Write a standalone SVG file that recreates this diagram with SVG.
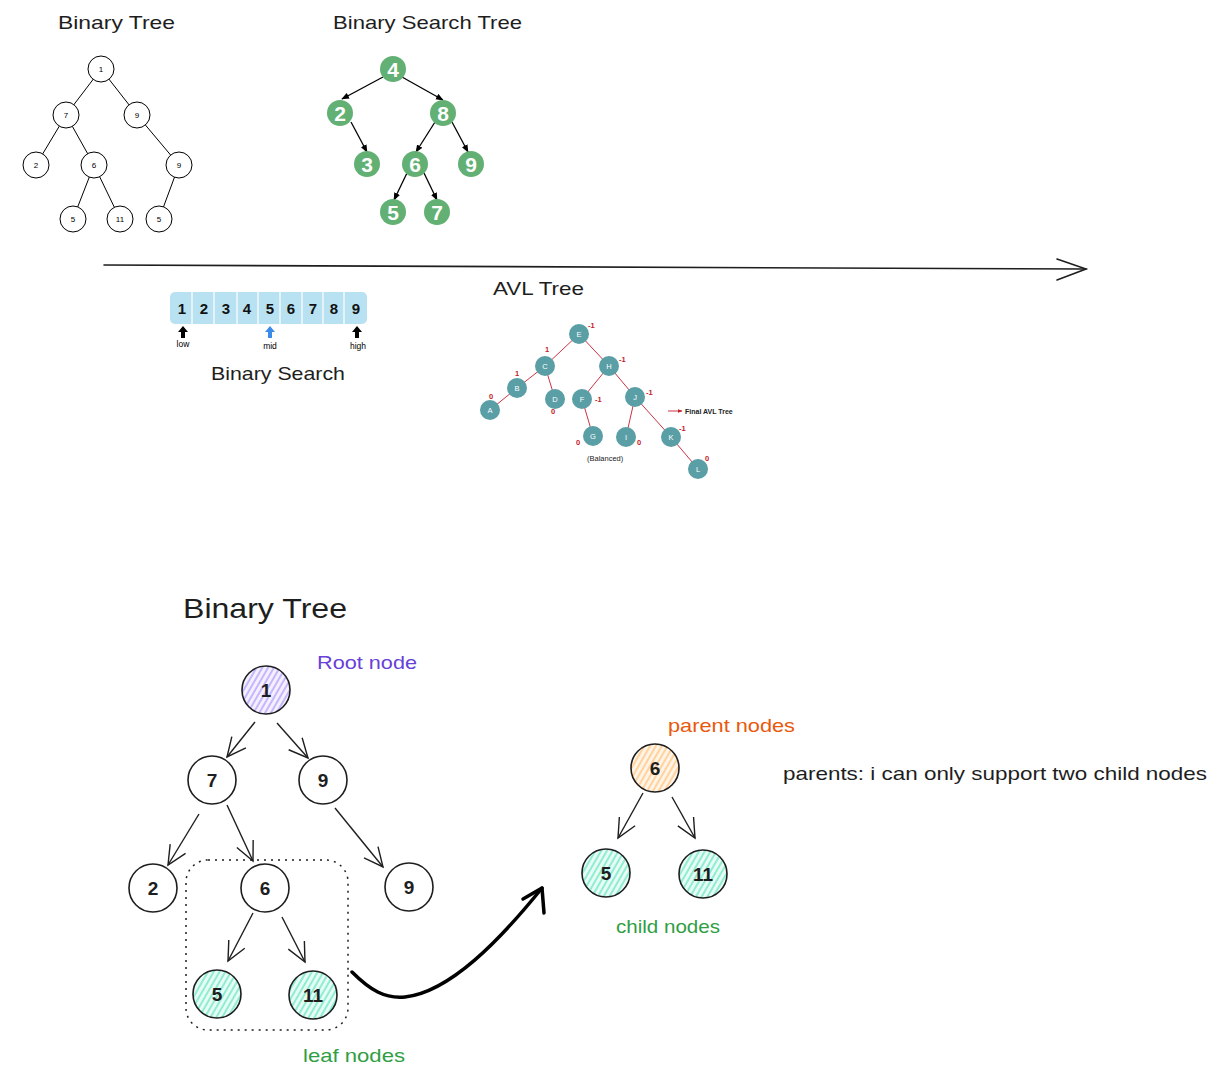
<svg xmlns="http://www.w3.org/2000/svg" width="1216" height="1078" viewBox="0 0 1216 1078">
<style>
text{font-family:"Liberation Sans","DejaVu Sans",sans-serif;}
.hand{font-size:19px;fill:#1e1e1e;}
.sm circle{fill:#fff;stroke:#000;stroke-width:1;}
.sm text{font-size:8px;text-anchor:middle;fill:#000;}
.bst circle{fill:#62b073;}
.bst text{font-size:21px;font-weight:bold;fill:#fff;text-anchor:middle;}
.avl circle{fill:#5a9ea6;}
.avl text{font-size:7.5px;fill:#fff;text-anchor:middle;}
.bal{font-size:7.5px;font-weight:bold;fill:#c3202c;}
.big circle{stroke:#1e1e1e;stroke-width:1.6;}
.big text{font-size:19px;font-weight:bold;fill:#1e1e1e;text-anchor:middle;}
.arr{fill:none;stroke:#1e1e1e;stroke-width:1.4;}
.cell{font-size:15px;font-weight:bold;fill:#111;text-anchor:middle;}
</style>
<defs>
<marker id="ah" viewBox="0 0 10 10" refX="9" refY="5" markerWidth="6" markerHeight="6" orient="auto"><path d="M0,1 L10,5 L0,9 z" fill="#000"/></marker>
<marker id="open" viewBox="-22 -12 24 24" refX="0" refY="0" markerWidth="24" markerHeight="24" markerUnits="userSpaceOnUse" orient="auto"><path d="M-19,-9 L0,0 L-19,9" fill="none" stroke="#1e1e1e" stroke-width="1.4"/></marker>
<marker id="redah" viewBox="0 0 10 10" refX="9" refY="5" markerWidth="5" markerHeight="5" orient="auto"><path d="M0,1 L10,5 L0,9 z" fill="#c3202c"/></marker>
<pattern id="hp" width="5" height="5" patternUnits="userSpaceOnUse" patternTransform="rotate(30)"><rect width="5" height="5" fill="#f3f0ff"/><line x1="1" y1="0" x2="1" y2="5" stroke="#b197fc" stroke-width="1.3"/></pattern>
<pattern id="hg" width="5" height="5" patternUnits="userSpaceOnUse" patternTransform="rotate(30)"><rect width="5" height="5" fill="#e6fcf5"/><line x1="1" y1="0" x2="1" y2="5" stroke="#63e6be" stroke-width="1.3"/></pattern>
<pattern id="ho" width="5" height="5" patternUnits="userSpaceOnUse" patternTransform="rotate(30)"><rect width="5" height="5" fill="#fff4e6"/><line x1="1" y1="0" x2="1" y2="5" stroke="#ffc078" stroke-width="1.3"/></pattern>
</defs>

<!-- Top-left binary tree -->
<text class="hand" x="58" y="29" textLength="117" lengthAdjust="spacingAndGlyphs">Binary Tree</text>
<g id="connectors-small" stroke="#000" stroke-width="1">
<line x1="101" y1="69" x2="66" y2="115"/><line x1="101" y1="69" x2="137" y2="115"/>
<line x1="66" y1="115" x2="36" y2="165"/><line x1="66" y1="115" x2="94" y2="165"/>
<line x1="137" y1="115" x2="179" y2="165"/>
<line x1="94" y1="165" x2="73" y2="219"/><line x1="94" y1="165" x2="120" y2="219"/>
<line x1="179" y1="165" x2="159" y2="219"/>
</g>
<g class="sm">
<g id="s1"><circle cx="101" cy="69" r="13"/><text x="101" y="72">1</text></g>
<g id="s7"><circle cx="66" cy="115" r="13"/><text x="66" y="118">7</text></g>
<g id="s9a"><circle cx="137" cy="115" r="13"/><text x="137" y="118">9</text></g>
<g id="s2"><circle cx="36" cy="165" r="13"/><text x="36" y="168">2</text></g>
<g id="s6"><circle cx="94" cy="165" r="13"/><text x="94" y="168">6</text></g>
<g id="s9b"><circle cx="179" cy="165" r="13"/><text x="179" y="168">9</text></g>
<g id="s5a"><circle cx="73" cy="219" r="13"/><text x="73" y="222">5</text></g>
<g id="s11"><circle cx="120" cy="219" r="13"/><text x="120" y="222">11</text></g>
<g id="s5b"><circle cx="159" cy="219" r="13"/><text x="159" y="222">5</text></g>
</g>

<!-- BST -->
<text class="hand" x="333" y="29" textLength="189" lengthAdjust="spacingAndGlyphs">Binary Search Tree</text>
<g id="connectors-bst" stroke="#000" stroke-width="1.3" marker-end="url(#ah)">
<line x1="383" y1="77" x2="342" y2="99"/>
<line x1="402" y1="77" x2="443" y2="100"/>
<line x1="351" y1="122" x2="367" y2="152"/>
<line x1="435" y1="122" x2="416" y2="152"/>
<line x1="452" y1="122" x2="468" y2="152"/>
<line x1="407" y1="173" x2="394" y2="200"/>
<line x1="424" y1="173" x2="437" y2="200"/>
</g>
<g class="bst">
<g id="b4"><circle cx="393" cy="69" r="13"/><text x="393" y="77">4</text></g>
<g id="b2"><circle cx="340" cy="113" r="13"/><text x="340" y="121">2</text></g>
<g id="b8"><circle cx="443" cy="113" r="13"/><text x="443" y="121">8</text></g>
<g id="b3"><circle cx="367" cy="164" r="13"/><text x="367" y="172">3</text></g>
<g id="b6"><circle cx="415" cy="164" r="13"/><text x="415" y="172">6</text></g>
<g id="b9"><circle cx="471" cy="164" r="13"/><text x="471" y="172">9</text></g>
<g id="b5"><circle cx="393" cy="212" r="13"/><text x="393" y="220">5</text></g>
<g id="b7"><circle cx="437" cy="212" r="13"/><text x="437" y="220">7</text></g>
</g>

<!-- long arrow -->
<g id="connector-main" fill="none" stroke="#1e1e1e" stroke-width="1.6" stroke-linecap="round">
<path d="M104,265 L1086,269"/>
<path d="M1057,259 L1086,269 L1057,280"/>
</g>
<text class="hand" x="493" y="295" textLength="91" lengthAdjust="spacingAndGlyphs">AVL Tree</text>

<!-- Binary search array -->
<g id="array">
<rect x="170" y="292" width="197" height="32" rx="5" fill="#b8e2f1"/>
<g stroke="#fff" stroke-width="1.2">
<line x1="192" y1="292" x2="192" y2="324"/><line x1="214" y1="292" x2="214" y2="324"/>
<line x1="237" y1="292" x2="237" y2="324"/><line x1="258" y1="292" x2="258" y2="324"/>
<line x1="280" y1="292" x2="280" y2="324"/><line x1="302" y1="292" x2="302" y2="324"/>
<line x1="323" y1="292" x2="323" y2="324"/><line x1="344" y1="292" x2="344" y2="324"/>
</g>
<text class="cell" x="182" y="314">1</text><text class="cell" x="204" y="314">2</text>
<text class="cell" x="226" y="314">3</text><text class="cell" x="247" y="314">4</text>
<text class="cell" x="270" y="314">5</text><text class="cell" x="291" y="314">6</text>
<text class="cell" x="313" y="314">7</text><text class="cell" x="334" y="314">8</text>
<text class="cell" x="356" y="314">9</text>
<path d="M183,326 l-5,6 h3 v6 h4 v-6 h3 z" fill="#000"/>
<path d="M270,326 l-5,6 h3 v6 h4 v-6 h3 z" fill="#3b8beb"/>
<path d="M357,326 l-5,6 h3 v6 h4 v-6 h3 z" fill="#000"/>
<text x="183" y="347" font-size="8.5" text-anchor="middle" fill="#000">low</text>
<text x="270" y="349" font-size="8.5" text-anchor="middle" fill="#000">mid</text>
<text x="358" y="349" font-size="8.5" text-anchor="middle" fill="#000">high</text>
</g>
<text class="hand" x="211" y="380" textLength="134" lengthAdjust="spacingAndGlyphs">Binary Search</text>

<!-- AVL -->
<g id="connectors-avl" stroke="#cc3344" stroke-width="1">
<line x1="579" y1="334" x2="545" y2="366"/><line x1="579" y1="334" x2="609" y2="366"/>
<line x1="545" y1="366" x2="517" y2="388"/><line x1="545" y1="366" x2="555" y2="399"/>
<line x1="517" y1="388" x2="490" y2="410"/>
<line x1="609" y1="366" x2="582" y2="399"/><line x1="609" y1="366" x2="635" y2="397"/>
<line x1="582" y1="399" x2="593" y2="436"/>
<line x1="635" y1="397" x2="626" y2="437"/><line x1="635" y1="397" x2="671" y2="437"/>
<line x1="671" y1="437" x2="698" y2="469"/>
<line x1="668" y1="411" x2="682" y2="411" marker-end="url(#redah)"/>
</g>
<g class="avl">
<g id="aE"><circle cx="579" cy="334" r="10"/><text x="579" y="337">E</text></g>
<g id="aC"><circle cx="545" cy="366" r="10"/><text x="545" y="369">C</text></g>
<g id="aH"><circle cx="609" cy="366" r="10"/><text x="609" y="369">H</text></g>
<g id="aB"><circle cx="517" cy="388" r="10"/><text x="517" y="391">B</text></g>
<g id="aD"><circle cx="555" cy="399" r="10"/><text x="555" y="402">D</text></g>
<g id="aF"><circle cx="582" cy="399" r="10"/><text x="582" y="402">F</text></g>
<g id="aA"><circle cx="490" cy="410" r="10"/><text x="490" y="413">A</text></g>
<g id="aJ"><circle cx="635" cy="397" r="10"/><text x="635" y="400">J</text></g>
<g id="aG"><circle cx="593" cy="436" r="10"/><text x="593" y="439">G</text></g>
<g id="aI"><circle cx="626" cy="437" r="10"/><text x="626" y="440">I</text></g>
<g id="aK"><circle cx="671" cy="437" r="10"/><text x="671" y="440">K</text></g>
<g id="aL"><circle cx="698" cy="469" r="10"/><text x="698" y="472">L</text></g>
</g>
<g>
<text class="bal" x="588" y="328">-1</text>
<text class="bal" x="545" y="352">1</text>
<text class="bal" x="515" y="376">1</text>
<text class="bal" x="489" y="399">0</text>
<text class="bal" x="551" y="414">0</text>
<text class="bal" x="595" y="402">-1</text>
<text class="bal" x="576" y="445">0</text>
<text class="bal" x="619" y="362">-1</text>
<text class="bal" x="637" y="445">0</text>
<text class="bal" x="646" y="395">-1</text>
<text class="bal" x="679" y="431">-1</text>
<text class="bal" x="705" y="461">0</text>
</g>
<text x="685" y="414" font-size="7" font-weight="bold" fill="#222">Final AVL Tree</text>
<text x="587" y="461" font-size="7.5" fill="#222">(Balanced)</text>

<!-- Bottom binary tree -->
<text x="183" y="618" font-size="28" fill="#1e1e1e" textLength="164" lengthAdjust="spacingAndGlyphs">Binary Tree</text>
<text x="317" y="669" font-size="19" fill="#6741d9" textLength="100" lengthAdjust="spacingAndGlyphs">Root node</text>
<rect id="leaf-group" x="186" y="860" width="162" height="170" rx="22" fill="none" stroke="#1e1e1e" stroke-width="1.5" stroke-dasharray="2,5"/>
<g id="connectors-big" class="arr" marker-end="url(#open)">
<line x1="255" y1="722" x2="227" y2="757"/>
<line x1="277" y1="723" x2="308" y2="758"/>
<line x1="199" y1="814" x2="168" y2="865"/>
<line x1="227" y1="805" x2="253" y2="861"/>
<line x1="335" y1="808" x2="383" y2="867"/>
<line x1="253" y1="913" x2="228" y2="961"/>
<line x1="282" y1="917" x2="305" y2="962"/>
<line x1="643" y1="793" x2="618" y2="838"/>
<line x1="672" y1="797" x2="695" y2="838"/>
</g>
<g id="curve-arrow" fill="none" stroke="#000" stroke-width="3.5" stroke-linecap="round" stroke-linejoin="round">
<path d="M352,972 C370,990 385,999 405,997 C450,992 500,940 542,888"/>
<path d="M523,899 L542,888 L544,913"/>
</g>
<g class="big">
<g id="n1"><circle cx="266" cy="690" r="24" fill="url(#hp)"/><text x="266" y="697">1</text></g>
<g id="n7"><circle cx="212" cy="780" r="24" fill="#fff"/><text x="212" y="787">7</text></g>
<g id="n9"><circle cx="323" cy="780" r="24" fill="#fff"/><text x="323" y="787">9</text></g>
<g id="n2"><circle cx="153" cy="888" r="24" fill="#fff"/><text x="153" y="895">2</text></g>
<g id="n6"><circle cx="265" cy="888" r="24" fill="#fff"/><text x="265" y="895">6</text></g>
<g id="n9b"><circle cx="409" cy="887" r="24" fill="#fff"/><text x="409" y="894">9</text></g>
<g id="n5"><circle cx="217" cy="994" r="24" fill="url(#hg)"/><text x="217" y="1001">5</text></g>
<g id="n11"><circle cx="313" cy="995" r="24" fill="url(#hg)"/><text x="313" y="1002">11</text></g>
<g id="p6"><circle cx="655" cy="768" r="24" fill="url(#ho)"/><text x="655" y="775">6</text></g>
<g id="c5"><circle cx="606" cy="873" r="24" fill="url(#hg)"/><text x="606" y="880">5</text></g>
<g id="c11"><circle cx="703" cy="874" r="24" fill="url(#hg)"/><text x="703" y="881">11</text></g>
</g>
<text x="303" y="1062" font-size="19" fill="#2f9e44" textLength="102" lengthAdjust="spacingAndGlyphs">leaf nodes</text>
<text x="668" y="732" font-size="19" fill="#e8590c" textLength="127" lengthAdjust="spacingAndGlyphs">parent nodes</text>
<text x="616" y="933" font-size="19" fill="#2f9e44" textLength="104" lengthAdjust="spacingAndGlyphs">child nodes</text>
<text x="783" y="780" font-size="19" fill="#1e1e1e" textLength="424" lengthAdjust="spacingAndGlyphs">parents: i can only support two child nodes</text>
</svg>
